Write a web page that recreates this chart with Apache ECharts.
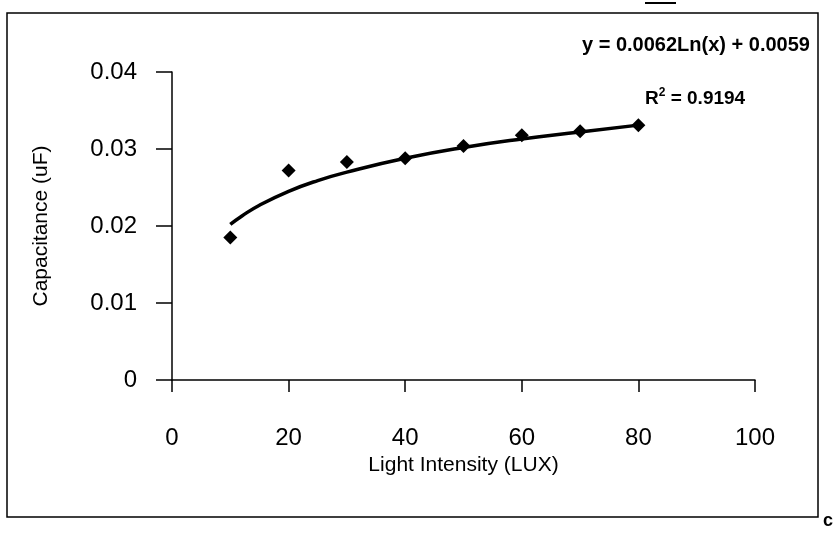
<!DOCTYPE html>
<html>
<head>
<meta charset="utf-8">
<script src="https://cdn.jsdelivr.net/npm/echarts@6/dist/echarts.min.js"></script>
<style>
  html, body { margin: 0; padding: 0; background: #fff; }
  #chart { width: 835px; height: 535px; }
</style>
</head>
<body>
<div id="chart"></div>
<script>
// measured points
const lux = [10, 20, 30, 40, 50, 60, 70, 80];
const capacitance = [0.0185, 0.0272, 0.0283, 0.0288, 0.0304, 0.0318, 0.0323, 0.0331];

// log trendline
const trendLux = [10, 12, 15, 20, 25, 30, 40, 50, 60, 70, 80];
const trendCap = [0.0202, 0.0213, 0.0227, 0.0245, 0.0259, 0.0270, 0.0288, 0.0302, 0.0313, 0.0322, 0.0331];

const xTicks = [0, 20, 40, 60, 80, 100];
const yTicks = [0, 0.01, 0.02, 0.03, 0.04];

const fontName = "Liberation Sans";
const chart = echarts.init(document.getElementById("chart"));

chart.setOption({
  animation: false,
  backgroundColor: "#fff",
  grid: {
    left: 172,
    right: 80,
    top: 72,
    bottom: 155,
    containLabel: false,
    outerBoundsMode: "none",
  },
  xAxis: {
    type: "value",
    min: xTicks[0],
    max: xTicks[xTicks.length - 1],
    interval: 20,
    name: "Light Intensity (LUX)",
    nameLocation: "middle",
    nameGap: 74,
    nameTextStyle: { color: "#000", fontFamily: fontName, fontSize: 21 },
    axisLine: { onZero: false, lineStyle: { color: "#000", width: 1.5 } },
    axisTick: { length: 12, lineStyle: { color: "#000", width: 1.5 } },
    axisLabel: { margin: 46, color: "#000", fontFamily: fontName, fontSize: 24 },
    splitLine: { show: false },
  },
  yAxis: {
    type: "value",
    min: yTicks[0],
    max: yTicks[yTicks.length - 1],
    interval: 0.01,
    name: "Capacitance (uF)",
    nameLocation: "middle",
    nameGap: 120,
    nameTextStyle: { color: "#000", fontFamily: fontName, fontSize: 21 },
    axisLine: { show: true, onZero: false, lineStyle: { color: "#000", width: 1.5 } },
    axisTick: { show: true, length: 16, lineStyle: { color: "#000", width: 1.5 } },
    axisLabel: { margin: 35, color: "#000", fontFamily: fontName, fontSize: 24 },
    splitLine: { show: false },
  },
  series: [
    {
      name: "trend",
      type: "line",
      data: trendLux.map((x, i) => [x, trendCap[i]]),
      smooth: true,
      showSymbol: false,
      lineStyle: { color: "#000", width: 3.5 },
      z: 2,
    },
    {
      name: "capacitance",
      type: "scatter",
      data: lux.map((x, i) => [x, capacitance[i]]),
      symbol: "diamond",
      symbolSize: 14,
      itemStyle: { color: "#000", opacity: 1 },
      z: 3,
    },
  ],
  graphic: [
    {
      type: "rect",
      shape: { x: 7, y: 13, width: 811, height: 504 },
      style: { fill: null, stroke: "#000", lineWidth: 1.5 },
      silent: true,
    },
    {
      type: "line",
      shape: { x1: 645, y1: 3, x2: 676, y2: 3 },
      style: { stroke: "#000", lineWidth: 2 },
      silent: true,
    },
    {
      type: "text",
      left: 582,
      top: 35,
      style: {
        text: "y = 0.0062Ln(x) + 0.0059",
        fill: "#000",
        font: "bold 20px 'Liberation Sans'",
      },
    },
    {
      type: "text",
      left: 645,
      top: 87,
      style: {
        text: "R{s|2} = 0.9194",
        fill: "#000",
        font: "bold 19px 'Liberation Sans'",
        rich: {
          s: { fontSize: 12, fontWeight: "bold", fontFamily: fontName, verticalAlign: "top", padding: [0, 0, 12, 0] },
        },
      },
    },
    {
      type: "text",
      left: 823,
      top: 512,
      style: { text: "c", fill: "#000", font: "bold 18px 'Liberation Sans'" },
    },
  ],
});
</script>
</body>
</html>
